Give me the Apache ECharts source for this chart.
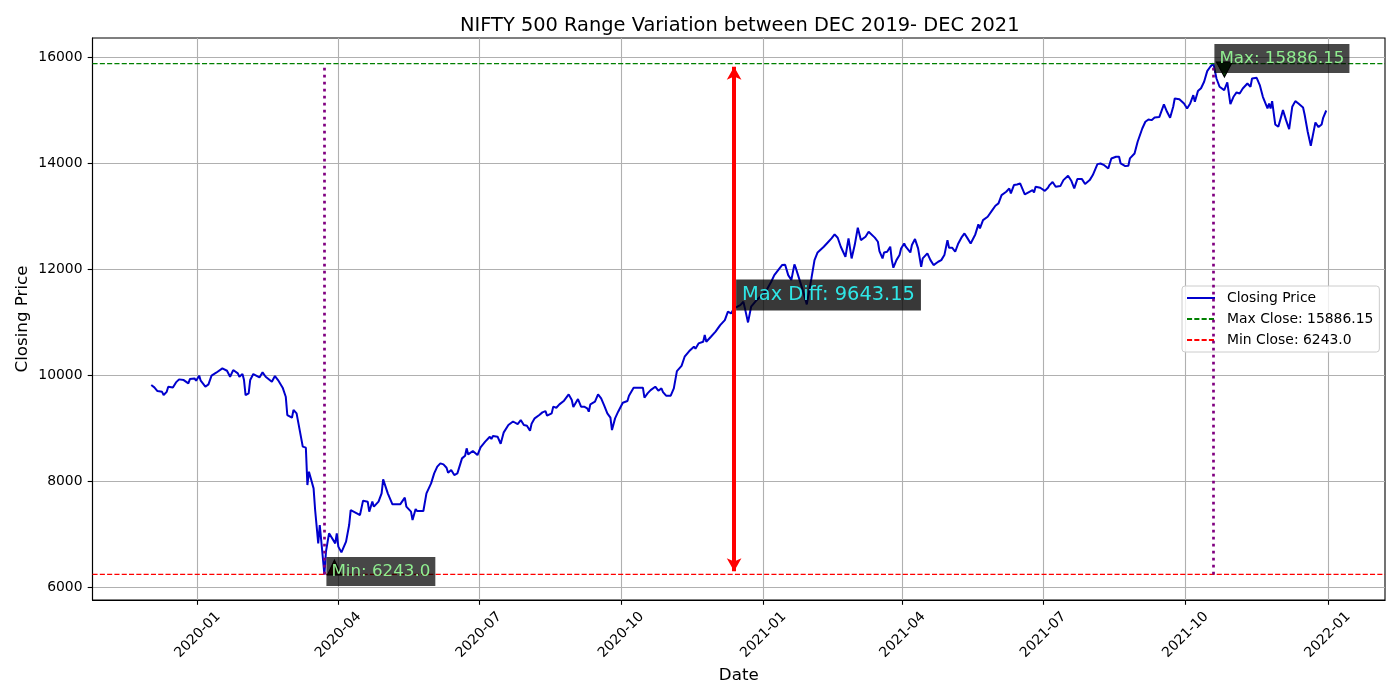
<!doctype html>
<html lang="en">
<head>
    <meta charset="utf-8"/>
    <title>NIFTY 500 Range Variation</title>
    <script src="https://cdn.jsdelivr.net/npm/echarts@6/dist/echarts.min.js"></script>
    <style>
        html, body { margin: 0; padding: 0; background: #fff; }
        #chart { width: 1400px; height: 700px; }
    </style>
</head>
<body>
<div id="chart"></div>
<script>
    // closing prices
    const dates = [
        "2019-12-02", "2019-12-04", "2019-12-05", "2019-12-06", "2019-12-09", "2019-12-10", "2019-12-12", "2019-12-13",
        "2019-12-16", "2019-12-18", "2019-12-20", "2019-12-23", "2019-12-26", "2019-12-27", "2019-12-30", "2019-12-31",
        "2020-01-02", "2020-01-03", "2020-01-06", "2020-01-08", "2020-01-10", "2020-01-13", "2020-01-17", "2020-01-20",
        "2020-01-22", "2020-01-24", "2020-01-27", "2020-01-28", "2020-01-30", "2020-01-31", "2020-02-01", "2020-02-03",
        "2020-02-04", "2020-02-06", "2020-02-07", "2020-02-10", "2020-02-12", "2020-02-14", "2020-02-18", "2020-02-20",
        "2020-02-22", "2020-02-25", "2020-02-27", "2020-02-28", "2020-03-02", "2020-03-03", "2020-03-05", "2020-03-09",
        "2020-03-11", "2020-03-12", "2020-03-13", "2020-03-16", "2020-03-17", "2020-03-19", "2020-03-20", "2020-03-23",
        "2020-03-24", "2020-03-26", "2020-03-27", "2020-03-30", "2020-03-31", "2020-04-01", "2020-04-03", "2020-04-06",
        "2020-04-08", "2020-04-09", "2020-04-13", "2020-04-15", "2020-04-17", "2020-04-20", "2020-04-21", "2020-04-23",
        "2020-04-24", "2020-04-27", "2020-04-29", "2020-04-30", "2020-05-03", "2020-05-06", "2020-05-07", "2020-05-11",
        "2020-05-12", "2020-05-14", "2020-05-15", "2020-05-18", "2020-05-19", "2020-05-21", "2020-05-22", "2020-05-26",
        "2020-05-28", "2020-05-31", "2020-06-02", "2020-06-04", "2020-06-06", "2020-06-08", "2020-06-10", "2020-06-11",
        "2020-06-13", "2020-06-15", "2020-06-17", "2020-06-19", "2020-06-20", "2020-06-22", "2020-06-23", "2020-06-24",
        "2020-06-27", "2020-06-30", "2020-07-02", "2020-07-05", "2020-07-08", "2020-07-09", "2020-07-10", "2020-07-13",
        "2020-07-15", "2020-07-17", "2020-07-20", "2020-07-23", "2020-07-26", "2020-07-28", "2020-07-30", "2020-08-01",
        "2020-08-03", "2020-08-04", "2020-08-06", "2020-08-09", "2020-08-11", "2020-08-13", "2020-08-14", "2020-08-17",
        "2020-08-18", "2020-08-20", "2020-08-22", "2020-08-25", "2020-08-28", "2020-08-30", "2020-08-31", "2020-09-03",
        "2020-09-05", "2020-09-07", "2020-09-09", "2020-09-10", "2020-09-11", "2020-09-14", "2020-09-16", "2020-09-18",
        "2020-09-20", "2020-09-22", "2020-09-24", "2020-09-25", "2020-09-27", "2020-09-29", "2020-09-30", "2020-10-02",
        "2020-10-05", "2020-10-06", "2020-10-09", "2020-10-12", "2020-10-15", "2020-10-16", "2020-10-18", "2020-10-20",
        "2020-10-23", "2020-10-25", "2020-10-27", "2020-10-28", "2020-10-30", "2020-11-02", "2020-11-04", "2020-11-06",
        "2020-11-09", "2020-11-11", "2020-11-12", "2020-11-14", "2020-11-17", "2020-11-18", "2020-11-20", "2020-11-23",
        "2020-11-24", "2020-11-25", "2020-11-28", "2020-12-01", "2020-12-04", "2020-12-07", "2020-12-09", "2020-12-11",
        "2020-12-13", "2020-12-17", "2020-12-19", "2020-12-20", "2020-12-22", "2020-12-24", "2020-12-27", "2020-12-31",
        "2021-01-03", "2021-01-06", "2021-01-08", "2021-01-10", "2021-01-13", "2021-01-15", "2021-01-17", "2021-01-19",
        "2021-01-21", "2021-01-22", "2021-01-24", "2021-01-27", "2021-01-29", "2021-02-01", "2021-02-03", "2021-02-05",
        "2021-02-09", "2021-02-12", "2021-02-14", "2021-02-16", "2021-02-18", "2021-02-20", "2021-02-23", "2021-02-25",
        "2021-02-27", "2021-03-01", "2021-03-03", "2021-03-05", "2021-03-08", "2021-03-10", "2021-03-14", "2021-03-16",
        "2021-03-17", "2021-03-19", "2021-03-20", "2021-03-22", "2021-03-24", "2021-03-25", "2021-03-26", "2021-03-28",
        "2021-03-30", "2021-03-31", "2021-04-02", "2021-04-03", "2021-04-06", "2021-04-07", "2021-04-09", "2021-04-11",
        "2021-04-13", "2021-04-14", "2021-04-17", "2021-04-19", "2021-04-21", "2021-04-24", "2021-04-26", "2021-04-28",
        "2021-04-30", "2021-05-01", "2021-05-03", "2021-05-05", "2021-05-07", "2021-05-09", "2021-05-11", "2021-05-13",
        "2021-05-15", "2021-05-18", "2021-05-20", "2021-05-21", "2021-05-23", "2021-05-26", "2021-05-29", "2021-05-31",
        "2021-06-02", "2021-06-04", "2021-06-07", "2021-06-09", "2021-06-10", "2021-06-12", "2021-06-14", "2021-06-16",
        "2021-06-19", "2021-06-22", "2021-06-24", "2021-06-25", "2021-06-26", "2021-06-29", "2021-07-02", "2021-07-04",
        "2021-07-05", "2021-07-07", "2021-07-09", "2021-07-12", "2021-07-14", "2021-07-17", "2021-07-19", "2021-07-21",
        "2021-07-23", "2021-07-26", "2021-07-28", "2021-07-31", "2021-08-02", "2021-08-05", "2021-08-07", "2021-08-09",
        "2021-08-12", "2021-08-14", "2021-08-17", "2021-08-19", "2021-08-20", "2021-08-23", "2021-08-25", "2021-08-26",
        "2021-08-29", "2021-08-31", "2021-09-03", "2021-09-05", "2021-09-07", "2021-09-09", "2021-09-11", "2021-09-14",
        "2021-09-17", "2021-09-19", "2021-09-21", "2021-09-23", "2021-09-24", "2021-09-27", "2021-09-30", "2021-10-02",
        "2021-10-04", "2021-10-06", "2021-10-07", "2021-10-09", "2021-10-11", "2021-10-13", "2021-10-15", "2021-10-17",
        "2021-10-19", "2021-10-21", "2021-10-23", "2021-10-26", "2021-10-28", "2021-10-30", "2021-11-01", "2021-11-03",
        "2021-11-05", "2021-11-07", "2021-11-10", "2021-11-12", "2021-11-13", "2021-11-16", "2021-11-18", "2021-11-20",
        "2021-11-23", "2021-11-24", "2021-11-25", "2021-11-26", "2021-11-28", "2021-11-30", "2021-12-01", "2021-12-03",
        "2021-12-05", "2021-12-07", "2021-12-09", "2021-12-11", "2021-12-13", "2021-12-16", "2021-12-17", "2021-12-19",
        "2021-12-21", "2021-12-23", "2021-12-24", "2021-12-26", "2021-12-28", "2021-12-29", "2021-12-30", "2021-12-31"
    ];
    const closes = [
        9818, 9774, 9790, 9704, 9690, 9629, 9690, 9787,
        9770, 9868, 9925, 9912, 9849, 9930, 9943, 9900,
        9995, 9900, 9787, 9830, 9995, 10051, 10132, 10088,
        9975, 10101, 10038, 9975, 10025, 9912, 9629, 9660,
        9912, 10025, 10006, 9962, 10057, 9975, 9881, 9987,
        9912, 9768, 9598, 9252, 9202, 9346, 9283, 8655,
        8636, 7930, 8183, 7868, 7459, 6830, 7176, 6243,
        6674, 7019, 6990, 6830, 7019, 6768, 6660, 6862,
        7176, 7459, 7396, 7364, 7636, 7617, 7428, 7617,
        7522, 7617, 7774, 8038, 7774, 7566, 7586, 7566,
        7586, 7692, 7522, 7428, 7270, 7478, 7440, 7440,
        7774, 7962, 8151, 8277, 8340, 8321, 8258, 8164,
        8214, 8119, 8151, 8340, 8434, 8484, 8623, 8509,
        8573, 8497, 8642, 8749, 8843, 8799, 8856, 8843,
        8710, 8925, 9063, 9130, 9080, 9157, 9063, 9050,
        8957, 9088, 9189, 9252, 9302, 9327, 9240, 9283,
        9410, 9390, 9453, 9523, 9642, 9535, 9403, 9553,
        9410, 9410, 9378, 9315, 9453, 9504, 9642, 9566,
        9428, 9283, 9202, 8968, 9189, 9315, 9327, 9485,
        9516, 9617, 9768, 9768, 9768, 9579, 9661, 9723,
        9787, 9711, 9755, 9686, 9617, 9617, 9755, 10082,
        10180, 10353, 10390, 10459, 10542, 10504, 10604, 10636,
        10761, 10636, 10730, 10825, 10950, 11044, 11202, 11170,
        11265, 11327, 11391, 11265, 11000, 11297, 11403, 11516,
        11610, 11768, 11893, 11969, 12082, 12089, 11893, 11799,
        12095, 12019, 11831, 11548, 11340, 11831, 12176, 12321,
        12429, 12523, 12586, 12661, 12598, 12429, 12240, 12586,
        12208, 12460, 12787, 12554, 12617, 12712, 12600, 12523,
        12347, 12208, 12321, 12334, 12429, 12176, 12033, 12176,
        12271, 12397, 12491, 12429, 12321, 12460, 12573, 12397,
        12051, 12208, 12302, 12176, 12082, 12145, 12176, 12271,
        12554, 12410, 12410, 12334, 12491, 12599, 12680, 12586,
        12491, 12661, 12850, 12774, 12931, 12995, 13120, 13203,
        13246, 13403, 13466, 13529, 13435, 13592, 13604, 13623,
        13416, 13466, 13497, 13453, 13561, 13541, 13482, 13541,
        13592, 13650, 13560, 13573, 13686, 13769, 13680, 13529,
        13705, 13705, 13611, 13686, 13781, 13988, 14000, 13975,
        13906, 14095, 14127, 14127, 14000, 13950, 13956, 14095,
        14189, 14410, 14661, 14787, 14831, 14818, 14869, 14875,
        15114, 14976, 14862, 15070, 15227, 15214, 15133, 15039,
        15133, 15290, 15164, 15366, 15420, 15542, 15743, 15826,
        15886.15, 15604, 15448, 15385, 15529, 15120, 15259, 15341,
        15322, 15416, 15510, 15448, 15604, 15617, 15479, 15259,
        15039, 15133, 15039, 15177, 14737, 14693, 14680, 15007,
        14818, 14649, 15070, 15177, 15133, 15057, 14925, 14599,
        14335, 14630, 14774, 14687, 14737, 14862, 14881, 15000
    ];

    const maxClose = 15886.15;
    const minClose = 6243.0;
    const maxDate = "2021-10-19";
    const minDate = "2020-03-23";
    const diffDate = "2020-12-13";

    const xTicks = ["2020-01-01", "2020-04-01", "2020-07-01", "2020-10-01", "2021-01-01",
        "2021-04-01", "2021-07-01", "2021-10-01", "2022-01-01"];
    const yTicks = [6000, 8000, 10000, 12000, 14000, 16000];

    // matplotlib-style 5% margins round the data
    const xMinDate = "2019-10-25";
    const xMaxDate = "2022-02-07";
    const spread = maxClose - minClose;
    const yMin = minClose - spread * 0.05;
    const yMax = maxClose + spread * 0.05;

    const FONT = "DejaVu Sans";

    // dates become day-precise timestamps on a plain value axis
    function ts(s) {
        const p = s.split("-");
        return Date.UTC(+p[0], +p[1] - 1, +p[2]);
    }
    function pad2(n) { return n < 10 ? "0" + n : "" + n; }

    const xMin = ts(xMinDate);
    const xMax = ts(xMaxDate);
    const closeData = dates.map((d, i) => [ts(d), closes[i]]);

    const chart = echarts.init(document.getElementById("chart"));

    const option = {
        animation: false,
        backgroundColor: "#ffffff",
        title: {
            text: "NIFTY 500 Range Variation between DEC 2019- DEC 2021",
            left: 455,
            top: 11,
            textStyle: {fontFamily: FONT, fontSize: 19.4, fontWeight: "normal", color: "#000"}
        },
        grid: {
            left: 92.5, right: 15, top: 38, bottom: 100,
            show: true, borderColor: "#000", borderWidth: 1.1, backgroundColor: "transparent"
        },
        legend: {
            orient: "vertical",
            left: 1182, top: 286,
            data: ["Closing Price", "Max Close: 15886.15", "Min Close: 6243.0"],
            itemWidth: 28, itemHeight: 14, itemGap: 7,
            padding: [5, 6, 5, 4],
            itemStyle: {opacity: 0},
            backgroundColor: "rgba(255,255,255,0.8)",
            borderColor: "#cccccc", borderWidth: 1, borderRadius: 3,
            textStyle: {fontFamily: FONT, fontSize: 13.9, color: "#000", padding: [0, 0, 0, 7]}
        },
        xAxis: {
            type: "value",
            min: xMin, max: xMax,
            name: "Date",
            nameLocation: "middle",
            nameGap: 66,
            nameTextStyle: {fontFamily: FONT, fontSize: 16.7, color: "#000"},
            axisLine: {show: true, onZero: false, lineStyle: {color: "#000", width: 1.1}},
            axisTick: {show: true, length: 4.8, lineStyle: {color: "#000", width: 1.1}, customValues: xTicks.map(ts)},
            splitLine: {show: true, lineStyle: {color: "#b0b0b0", width: 1.1}},
            axisLabel: {
                customValues: xTicks.map(ts),
                rotate: 45, align: "center", verticalAlign: "middle", margin: 35,
                fontFamily: FONT, fontSize: 13.9, color: "#000",
                formatter: function (v) {
                    const d = new Date(v);
                    return d.getUTCFullYear() + "-" + pad2(d.getUTCMonth() + 1);
                }
            }
        },
        yAxis: {
            type: "value",
            min: yMin, max: yMax,
            name: "Closing Price",
            nameLocation: "middle",
            nameGap: 61,
            nameMoveOverlap: false,
            nameRotate: 90,
            nameTextStyle: {fontFamily: FONT, fontSize: 16.7, color: "#000"},
            axisLine: {show: true, onZero: false, lineStyle: {color: "#000", width: 1.1}},
            axisTick: {show: true, length: 4.8, lineStyle: {color: "#000", width: 1.1}, customValues: yTicks},
            splitLine: {show: true, lineStyle: {color: "#b0b0b0", width: 1.1}},
            axisLabel: {
                customValues: yTicks,
                margin: 10,
                fontFamily: FONT, fontSize: 13.9, color: "#000",
                formatter: function (v) { return String(v); }
            }
        },
        series: [
            {
                name: "Closing Price",
                type: "line",
                symbol: "none",
                data: closeData,
                lineStyle: {color: "#0000cd", width: 2},
                itemStyle: {color: "#0000cd"},
                z: 3
            },
            {
                name: "Max Close: 15886.15",
                type: "line",
                symbol: "none",
                data: [[xMin, maxClose], [xMax, maxClose]],
                lineStyle: {color: "#008000", width: 1.3, type: [5.1, 2.2]},
                itemStyle: {color: "#008000"},
                z: 4
            },
            {
                name: "Min Close: 6243.0",
                type: "line",
                symbol: "none",
                data: [[xMin, minClose], [xMax, minClose]],
                lineStyle: {color: "#ff0000", width: 1.3, type: [5.1, 2.2]},
                itemStyle: {color: "#ff0000"},
                z: 4
            },
            {
                // dotted purple markers under the extremes
                name: "extremes",
                type: "line",
                data: [],
                z: 5,
                markLine: {
                    silent: true,
                    symbol: ["none", "none"],
                    label: {show: false},
                    lineStyle: {color: "#800080", width: 2.7, type: [2.7, 4.3]},
                    data: [
                        [{coord: [ts(minDate), minClose]}, {coord: [ts(minDate), maxClose]}],
                        [{coord: [ts(maxDate), minClose]}, {coord: [ts(maxDate), maxClose]}]
                    ]
                }
            },
            {
                // red double arrow showing the range
                name: "range",
                type: "line",
                data: [],
                z: 6,
                markLine: {
                    silent: true,
                    symbol: ["arrow", "arrow"],
                    symbolSize: [11, 13],
                    label: {show: false},
                    lineStyle: {color: "#ff0000", width: 4, type: "solid"},
                    data: [
                        [{coord: [ts(diffDate), minClose + 60]}, {coord: [ts(diffDate), maxClose - 60]}]
                    ]
                }
            },
            {
                name: "notes",
                type: "line",
                data: [],
                z: 8,
                markPoint: {
                    silent: true,
                    data: [
                        {
                            coord: [ts(minDate), minClose], symbol: "rect", symbolSize: 0,
                            label: {
                                show: true, position: "inside", align: "left", verticalAlign: "middle",
                                offset: [2, -3],
                                formatter: "Min: 6243.0",
                                fontFamily: FONT, fontSize: 16.7, lineHeight: 19, color: "#90ee90",
                                backgroundColor: "rgba(0,0,0,0.72)", padding: [5, 5, 5, 5]
                            }
                        },
                        {
                            coord: [ts(maxDate), maxClose], symbol: "rect", symbolSize: 0,
                            label: {
                                show: true, position: "inside", align: "left", verticalAlign: "middle",
                                offset: [1, -5],
                                formatter: "Max: 15886.15",
                                fontFamily: FONT, fontSize: 16.7, lineHeight: 19, color: "#90ee90",
                                backgroundColor: "rgba(0,0,0,0.72)", padding: [5, 5, 5, 5]
                            }
                        },
                        {
                            coord: [ts(diffDate), (maxClose + minClose) / 2], symbol: "rect", symbolSize: 0,
                            label: {
                                show: true, position: "inside", align: "left", verticalAlign: "middle",
                                offset: [2, -24],
                                formatter: "Max Diff: 9643.15",
                                fontFamily: FONT, fontSize: 19.4, lineHeight: 21, color: "#2fe6e6",
                                backgroundColor: "rgba(0,0,0,0.78)", padding: [5, 6, 5, 6]
                            }
                        }
                    ]
                }
            },
            {
                name: "heads",
                type: "line",
                data: [],
                z: 9,
                markPoint: {
                    silent: true,
                    label: {show: false},
                    data: [
                        {
                            coord: [ts(minDate), minClose], symbol: "triangle", symbolSize: [14, 15],
                            symbolOffset: [10, -7],
                            itemStyle: {color: "#551010", borderColor: "#000", borderWidth: 1}
                        },
                        {
                            coord: [ts(maxDate), maxClose], symbol: "triangle", symbolSize: [16, 15],
                            symbolRotate: 180, symbolOffset: [11, 6],
                            itemStyle: {color: "#0b3a0b", borderColor: "#000", borderWidth: 1}
                        }
                    ]
                }
            }
        ]
    };
    chart.setOption(option);

    window.onresize = function () {
        chart.resize();
    };
</script>
</body>
</html>
